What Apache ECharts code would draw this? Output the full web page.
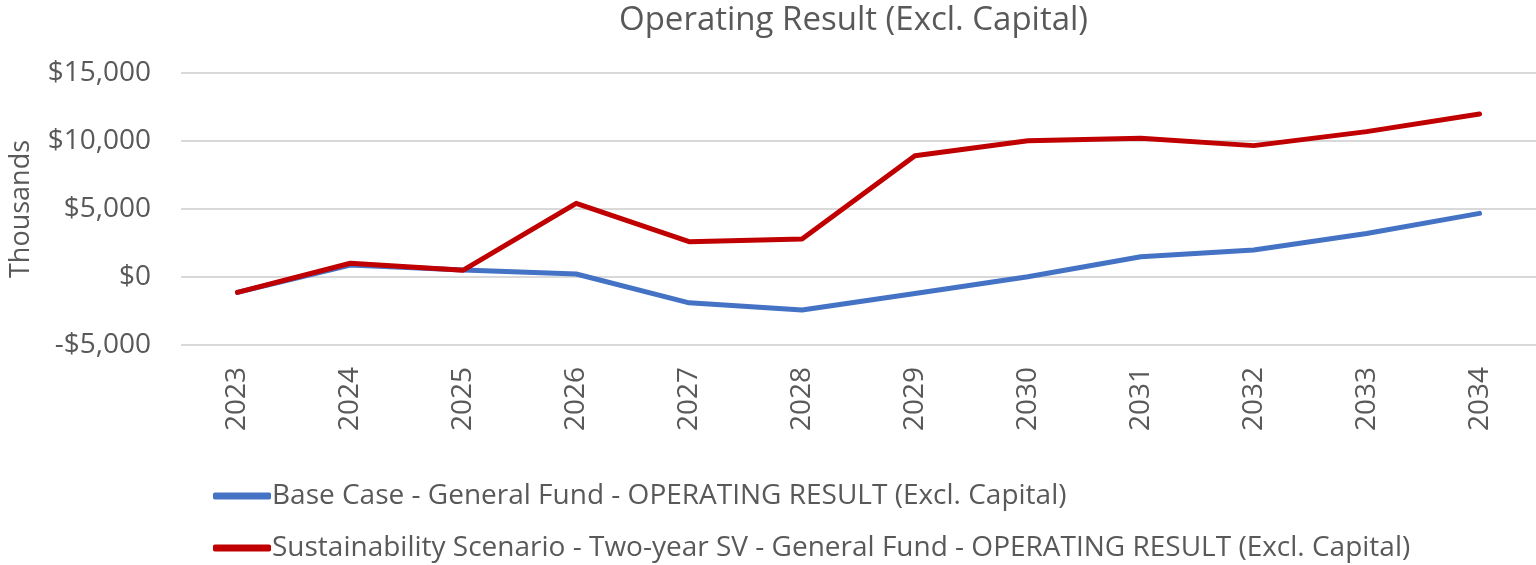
<!DOCTYPE html>
<html>
<head>
<meta charset="utf-8">
<title>Operating Result (Excl. Capital)</title>
<script src="https://cdn.jsdelivr.net/npm/echarts@6/dist/echarts.min.js"></script>
<style>
    html, body {
        margin: 0;
        padding: 0;
        background: #ffffff;
    }

    #chart {
        width: 1536px;
        height: 565px;
    }
</style>
</head>
<body>
<div id="chart"></div>
<script>
// values in thousands of dollars
const years = ['2023', '2024', '2025', '2026', '2027', '2028', '2029', '2030', '2031', '2032', '2033', '2034'];
const baseCase = [-1130, 880, 510, 220, -1900, -2430, -1220, 20, 1490, 1990, 3200, 4680];
const sustainability = [-1130, 1010, 500, 5420, 2600, 2790, 8920, 10020, 10200, 9660, 10690, 11990];
const seriesNames = [
    'Base Case - General Fund - OPERATING RESULT (Excl. Capital)',
    'Sustainability Scenario - Two-year SV - General Fund - OPERATING RESULT (Excl. Capital)'
];

const font = 'Open Sans';
const textColor = '#595959';

const myChart = echarts.init(document.getElementById('chart'));

// Excel style currency label: $15,000 / -$5,000
function dollars(v) {
    const s = Math.abs(v).toLocaleString('en-US');
    return (v < 0 ? '-$' : '$') + s;
}

const option = {
    animation: false,
    title: {
        text: 'Operating Result (Excl. Capital)',
        left: 614,
        top: -1,
        textStyle: { fontFamily: font, fontSize: 33, fontWeight: 'normal', color: textColor }
    },
    legend: {
        orient: 'vertical',
        left: 213,
        top: 482,
        height: 83,
        padding: 0,
        itemWidth: 58,
        itemHeight: 7,
        itemGap: 24,
        textStyle: { fontFamily: font, fontSize: 28, color: textColor, padding: [0, 0, 0, -4] },
        data: seriesNames.map(n => ({ name: n, icon: 'roundRect' }))
    },
    grid: {
        left: 180,
        right: 0,
        top: 73,
        bottom: 220,
        containLabel: false
    },
    xAxis: {
        type: 'category',
        data: years,
        boundaryGap: true,
        axisLine: { show: false },
        axisTick: { show: false },
        axisLabel: {
            rotate: 90,
            margin: 22,
            fontFamily: font,
            fontSize: 28,
            color: textColor
        }
    },
    yAxis: {
        type: 'value',
        min: -5000,
        max: 15000,
        interval: 5000,
        name: 'Thousands',
        nameLocation: 'middle',
        nameGap: 146,
        nameTextStyle: { fontFamily: font, fontSize: 27, color: textColor },
        axisLine: { show: false },
        axisTick: { show: false },
        splitLine: { lineStyle: { color: '#d9d9d9', width: 2 } },
        axisLabel: {
            margin: 30,
            fontFamily: font,
            fontSize: 28,
            color: textColor,
            formatter: dollars
        }
    },
    series: [
        {
            name: seriesNames[0],
            type: 'line',
            data: baseCase,
            symbol: 'none',
            color: '#4472c4',
            lineStyle: { width: 5, cap: 'round', join: 'round' }
        },
        {
            name: seriesNames[1],
            type: 'line',
            data: sustainability,
            symbol: 'none',
            color: '#c00000',
            lineStyle: { width: 5, cap: 'round', join: 'round' }
        }
    ]
};

myChart.setOption(option);
</script>
</body>
</html>
